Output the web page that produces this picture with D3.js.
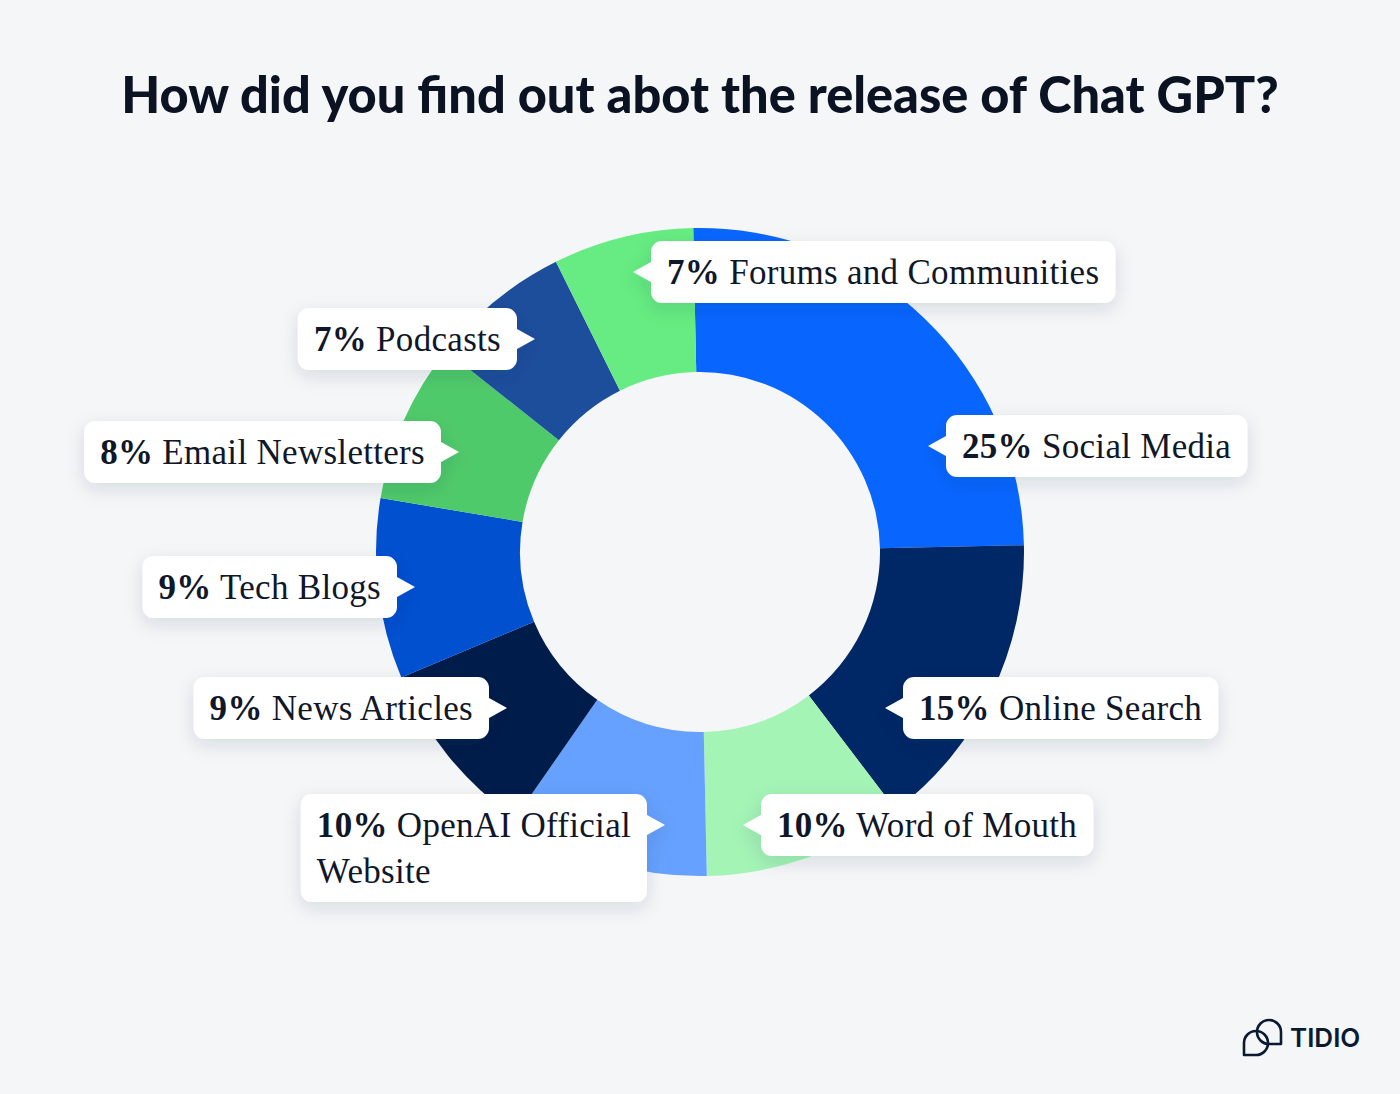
<!DOCTYPE html>
<html>
<head>
<meta charset="utf-8">
<script src="https://cdn.jsdelivr.net/npm/d3@7"></script>
<style>
  html, body { margin: 0; padding: 0; background: #F5F6F8; }
  svg { display: block; }
</style>
</head>
<body>
<svg id="chart" width="1400" height="1094"></svg>
<script>
// ---- data ----
const categories = ["Social Media", "Online Search", "Word of Mouth", "OpenAI Official Website",
  "News Articles", "Tech Blogs", "Email Newsletters", "Podcasts", "Forums and Communities"];
const values = [25, 15, 10, 10, 9, 9, 8, 7, 7];
const labelLines = [
  ["Social Media"], ["Online Search"], ["Word of Mouth"], ["OpenAI Official", "Website"],
  ["News Articles"], ["Tech Blogs"], ["Email Newsletters"], ["Podcasts"], ["Forums and Communities"]
];
const title = "How did you find out abot the release of Chat GPT?";

// ---- styles / layout (kept separate from data) ----
const colors = ["#0866FF", "#002766", "#A4F4B6", "#66A1FF", "#001C4A", "#0050D0", "#4FCA6A", "#1D4E9C", "#66EC82"];
const calloutTips = [
  [928, 446, "left"], [885, 708, "left"], [743, 825, "left"], [665, 825, "right"],
  [507, 708, "right"], [415, 587, "right"], [459, 452, "right"], [535, 339, "right"], [633, 272, "left"]
];

const W = 1400, H = 1094;
const cx = 700, cy = 552, rOuter = 324, rInner = 180;
const svg = d3.select("#chart");

// shadow filter
const defs = svg.append("defs");
const f = defs.append("filter").attr("id", "shadow").attr("x", "-30%").attr("y", "-50%").attr("width", "160%").attr("height", "200%");
f.append("feDropShadow").attr("dx", 0).attr("dy", 6).attr("stdDeviation", 9)
  .attr("flood-color", "#1B2A4A").attr("flood-opacity", 0.13);

// title
svg.append("text")
  .attr("x", W / 2).attr("y", 113)
  .attr("text-anchor", "middle")
  .attr("font-family", "Lato, Inter, sans-serif")
  .attr("font-weight", 900)
  .attr("font-size", 50.5)
  .attr("fill", "#0B1221")
  .text(title);

// donut
const offset = -1.2 * Math.PI / 180;
const pie = d3.pie().sort(null).value(d => d)
  .startAngle(offset).endAngle(2 * Math.PI + offset);
const arcs = pie(values);
const arc = d3.arc().innerRadius(rInner).outerRadius(rOuter);
const g = svg.append("g").attr("transform", `translate(${cx},${cy})`);
g.selectAll("path").data(arcs).join("path")
  .attr("d", arc)
  .attr("fill", (d, i) => colors[i]);

// callouts
function calloutPath(x, y, w, h, r, side, ty) {
  const a = 10, L = 18;
  let p = `M${x + r},${y} H${x + w - r} A${r},${r} 0 0 1 ${x + w},${y + r}`;
  if (side === "right") p += ` V${ty - a} L${x + w + L},${ty} L${x + w},${ty + a}`;
  p += ` V${y + h - r} A${r},${r} 0 0 1 ${x + w - r},${y + h} H${x + r} A${r},${r} 0 0 1 ${x},${y + h - r}`;
  if (side === "left") p += ` V${ty + a} L${x - L},${ty} L${x},${ty - a}`;
  p += ` V${y + r} A${r},${r} 0 0 1 ${x + r},${y} Z`;
  return p;
}

const fontSize = 35, lineH = 46, pad = 16, boxH1 = 62, arrowL = 18;
const lg = svg.append("g");
arcs.forEach((d, i) => {
  const [tx, ty, side] = calloutTips[i];
  const grp = lg.append("g");
  const bg = grp.append("path").attr("fill", "#FFFFFF").attr("filter", "url(#shadow)");
  const t = grp.append("text")
    .attr("font-family", "'Liberation Serif', 'DejaVu Serif', serif")
    .attr("font-size", fontSize)
    .attr("letter-spacing", 0.3)
    .attr("fill", "#0F1729");
  const lines = labelLines[i];
  lines.forEach((ln, k) => {
    const ts = t.append("tspan").attr("x", 0).attr("y", k * lineH);
    if (k === 0) {
      ts.append("tspan").attr("font-weight", 700).text(values[i] + "%");
      ts.append("tspan").text(" " + ln);
    } else {
      ts.text(ln);
    }
  });
  const bb = t.node().getBBox();
  const w = bb.width + 2 * pad;
  const h = boxH1 + (lines.length - 1) * lineH;
  const bx = side === "left" ? tx + arrowL : tx - arrowL - w;
  const by = lines.length === 1 ? ty - h / 2 : ty - 31;
  bg.attr("d", calloutPath(bx, by, w, h, 11, side, ty));
  t.attr("transform", `translate(${bx + pad},${by + 31 + fontSize * 0.34})`);
});

// TIDIO logo
const logo = svg.append("g").attr("fill", "none").attr("stroke", "#0B1A33").attr("stroke-width", 2.6).attr("stroke-linejoin", "round");
logo.append("path").attr("d", "M1281,1044 L1269,1044 A12,12 0 1 1 1281,1032 Z");
logo.append("path").attr("d", "M1244,1055 L1244,1043 A12,12 0 1 1 1256,1055 Z");
svg.append("text").attr("x", 1290).attr("y", 1047)
  .attr("font-family", "Inter, 'Open Sans', sans-serif").attr("font-weight", 600)
  .attr("font-size", 26).attr("fill", "#0B1A33").text("TIDIO");
</script>
</body>
</html>
